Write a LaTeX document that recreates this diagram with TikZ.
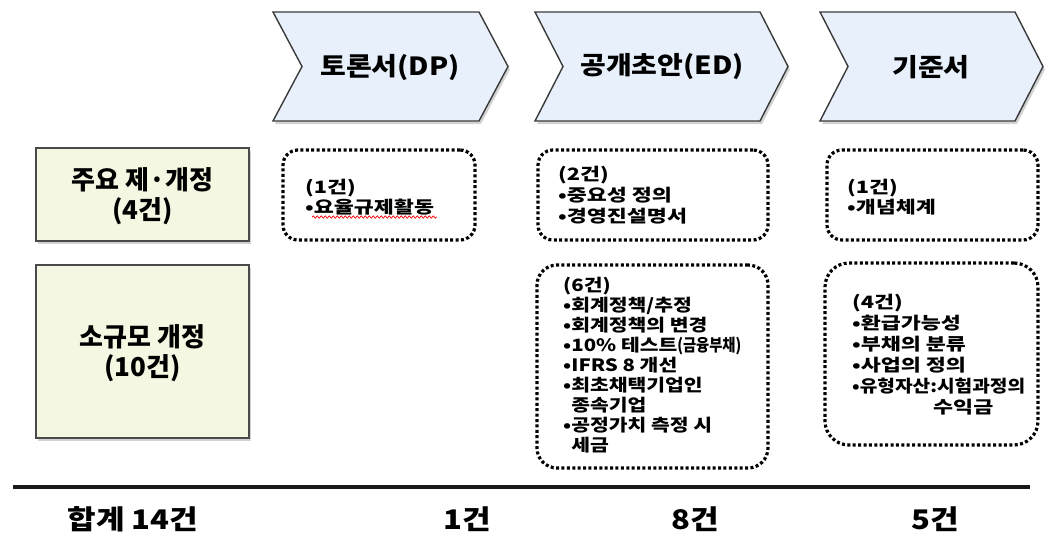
\documentclass[tikz,border=0pt]{standalone}
\usepackage{fontspec}
\setmainfont{Noto Sans CJK KR}
\newfontfamily\krA{Noto Sans CJK KR}[FakeStretch=1.12]
\newfontfamily\krB{Noto Sans CJK KR}[FakeStretch=1.28]
\newfontfamily\krD{Noto Sans CJK KR}[FakeStretch=1.2]
\newfontfamily\krC{Noto Sans CJK KR}[FakeStretch=1.15]
\usetikzlibrary{shadows,decorations.pathmorphing}
\definecolor{chevfill}{HTML}{E8F1FB}
\definecolor{chevline}{HTML}{3A3A3A}
\definecolor{leftfill}{HTML}{F4F8E2}
\definecolor{leftline}{HTML}{4A4A4A}
\tikzset{
  chev/.style={fill=chevfill, draw=chevline, line width=1.4pt, line join=miter,
    drop shadow={shadow xshift=2pt, shadow yshift=-3pt, opacity=0.35}},
  chevtext/.style={font=\krA\bfseries\fontsize{25}{30}\selectfont, inner sep=0pt},
  leftbox/.style={rectangle, fill=leftfill, draw=leftline, line width=1.4pt,
    drop shadow={shadow xshift=2pt, shadow yshift=-3pt, opacity=0.35}},
  lefttext/.style={font=\bfseries\fontsize{26}{30}\selectfont, align=center, inner sep=0pt},
  dotbox/.style={rectangle, draw=black, line width=3.2pt, dash pattern=on 3pt off 2.4pt,
    rounded corners=15pt},
  itemtext/.style={font=\krB\bfseries\fontsize{17}{20}\selectfont, align=left,
    inner sep=0pt, anchor=north west},
  bottomtext/.style={font=\krC\bfseries\fontsize{27}{30}\selectfont, inner sep=0pt},
}
\begin{document}
\begin{tikzpicture}[x=1pt,y=-1pt]
\useasboundingbox (0,0) rectangle (1046,533);

% chevrons
\path[chev] (273,12) -- (479,12) -- (508,66.5) -- (479,121) -- (273,121) -- (302,66.5) -- cycle;
\path[chev] (535,12) -- (760,12) -- (788,66.5) -- (760,121) -- (535,121) -- (563,66.5) -- cycle;
\path[chev] (820,12) -- (1015,12) -- (1043,66.5) -- (1015,121) -- (820,121) -- (848,66.5) -- cycle;
\node[chevtext] (dp) at (390,67) {토론서(DP)};
\node[chevtext] (ed) at (662,67) {공개초안(ED)};
\node[chevtext] (std) at (931,67) {기준서};

% left category boxes
\node[leftbox, minimum width=213pt, minimum height=93pt] (major) at (142.5,194.5) {};
\node[lefttext] (majortext) at (142.5,196) {주요 제·개정\\(4건)};
\node[leftbox, minimum width=213pt, minimum height=173pt] (minor) at (142.5,351.5) {};
\node[lefttext] (minortext) at (142.5,353) {소규모 개정\\(10건)};

% dotted boxes
\node[dotbox, minimum width=192pt, minimum height=90pt] (boxA) at (379,195) {};
\node[dotbox, minimum width=230pt, minimum height=90pt] (boxB) at (653,195) {};
\node[dotbox, minimum width=231pt, minimum height=203pt, rounded corners=20pt] (boxC) at (652.5,366.5) {};
\node[dotbox, minimum width=211pt, minimum height=90pt] (boxD) at (932.5,195) {};
\node[dotbox, minimum width=213pt, minimum height=182pt, rounded corners=24pt] (boxE) at (931.5,354) {};

\node[itemtext] (textA) at (305,178.5) {(1건)\\•요율규제활동};
\node[itemtext, font=\krB\bfseries\fontsize{17}{21}\selectfont] (textB) at (558,166) {(2건)\\•중요성 정의\\•경영진설명서};
\node[itemtext, font=\krD\bfseries\fontsize{17}{20}\selectfont] (textC) at (563,276.5) {(6건)\\•회계정책/추정\\•회계정책의 변경\\•10\% 테스트\scalebox{0.7}[1]{(금융부채)}\\•IFRS 8 개선\\•최초채택기업인\\\phantom{•}종속기업\\•공정가치 측정 시\\\phantom{•}세금};
\node[itemtext] (textD) at (847,178.5) {(1건)\\•개념체계};
\node[itemtext, font=\krB\bfseries\fontsize{17}{21}\selectfont] (textE) at (852,293.5) {(4건)\\•환급가능성\\•부채의 분류\\•사업의 정의\\\scalebox{0.88}[1]{•유형자산:시험과정의}\\\hspace*{81pt}수익금};

% spell-check squiggle
\coordinate (sqL) at (312,217);
\coordinate (sqR) at (437,217);
\draw[red, line width=0.7pt, decorate, decoration={snake, amplitude=1.2pt, segment length=4pt}] (sqL) -- (sqR);

% total rule
\coordinate (ruleL) at (13,487);
\coordinate (ruleR) at (1030,487);
\draw[line width=4pt, color=black!90] (ruleL) -- (ruleR);

\node[bottomtext] (total) at (133,519) {합계 14건};
\node[bottomtext] (n1) at (467,519) {1건};
\node[bottomtext] (n8) at (695,519) {8건};
\node[bottomtext] (n5) at (935,519) {5건};
\end{tikzpicture}
\end{document}
